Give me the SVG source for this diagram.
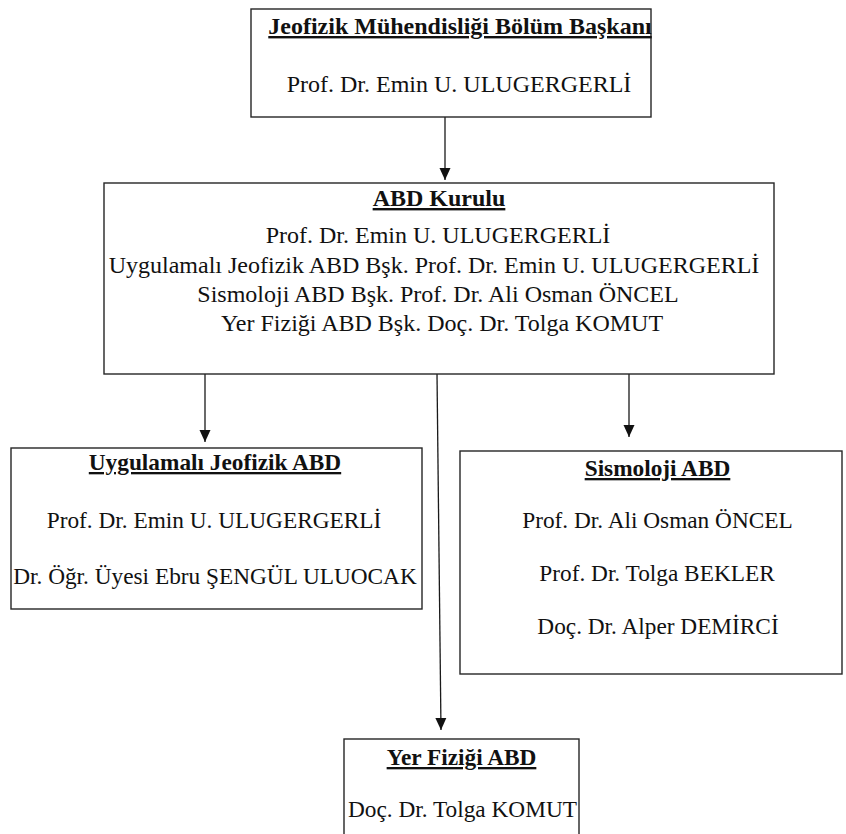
<svg xmlns="http://www.w3.org/2000/svg" width="846" height="834" viewBox="0 0 846 834">
<style>
.box{fill:#fff;stroke:#262626;stroke-width:1.4}
text{font-family:"Liberation Serif","Times New Roman",serif;fill:#111;text-anchor:middle}
.t{font-size:24px}
.s{font-size:23.3px}
.h{font-weight:bold;text-decoration:underline}
.c{stroke:#1a1a1a;stroke-width:1.3;fill:none}
</style>
<defs>
<marker id="ah" markerWidth="12" markerHeight="12" viewBox="0 0 12 12" refX="12" refY="6" orient="auto" markerUnits="userSpaceOnUse">
<path d="M0,0.5 L12,6 L0,11.5 Z" fill="#111"/>
</marker>
</defs>
<rect width="846" height="834" fill="#fff"/>
<g id="connectors">
<line class="c" x1="445" y1="117" x2="445" y2="180" marker-end="url(#ah)"/>
<line class="c" x1="205" y1="374" x2="205" y2="442" marker-end="url(#ah)"/>
<line class="c" x1="437" y1="374" x2="441" y2="730" marker-end="url(#ah)"/>
<line class="c" x1="629" y1="374" x2="629" y2="437" marker-end="url(#ah)"/>
</g>
<g id="bolum-baskani">
<rect class="box" x="251" y="9" width="400" height="108"/>
<text class="t h" x="460" y="34">Jeofizik Mühendisliği Bölüm Başkanı</text>
<text class="t" x="459" y="92">Prof. Dr. Emin U. ULUGERGERLİ</text>
</g>
<g id="abd-kurulu">
<rect class="box" x="104" y="183" width="670" height="191"/>
<text class="t h" x="439" y="206">ABD Kurulu</text>
<text class="t" x="438" y="243">Prof. Dr. Emin U. ULUGERGERLİ</text>
<text class="t" x="434" y="273">Uygulamalı Jeofizik ABD Bşk. Prof. Dr. Emin U. ULUGERGERLİ</text>
<text class="t" x="438" y="302">Sismoloji ABD Bşk. Prof. Dr. Ali Osman ÖNCEL</text>
<text class="t" x="442" y="331">Yer Fiziği ABD Bşk. Doç. Dr. Tolga KOMUT</text>
</g>
<g id="uygulamali-jeofizik">
<rect class="box" x="11" y="448" width="411" height="161"/>
<text class="s h" x="215" y="470">Uygulamalı Jeofizik ABD</text>
<text class="s" x="214" y="528">Prof. Dr. Emin U. ULUGERGERLİ</text>
<text class="s" x="215" y="584">Dr. Öğr. Üyesi Ebru ŞENGÜL ULUOCAK</text>
</g>
<g id="sismoloji">
<rect class="box" x="460" y="451" width="382" height="223"/>
<text class="s h" x="657.5" y="476">Sismoloji ABD</text>
<text class="s" x="657.5" y="528">Prof. Dr. Ali Osman ÖNCEL</text>
<text class="s" x="657" y="581">Prof. Dr. Tolga BEKLER</text>
<text class="s" x="658" y="634">Doç. Dr. Alper DEMİRCİ</text>
</g>
<g id="yer-fizigi">
<rect class="box" x="344" y="739" width="235" height="120"/>
<text class="s h" x="461.5" y="765">Yer Fiziği ABD</text>
<text class="s" x="462.5" y="817">Doç. Dr. Tolga KOMUT</text>
</g>
</svg>
